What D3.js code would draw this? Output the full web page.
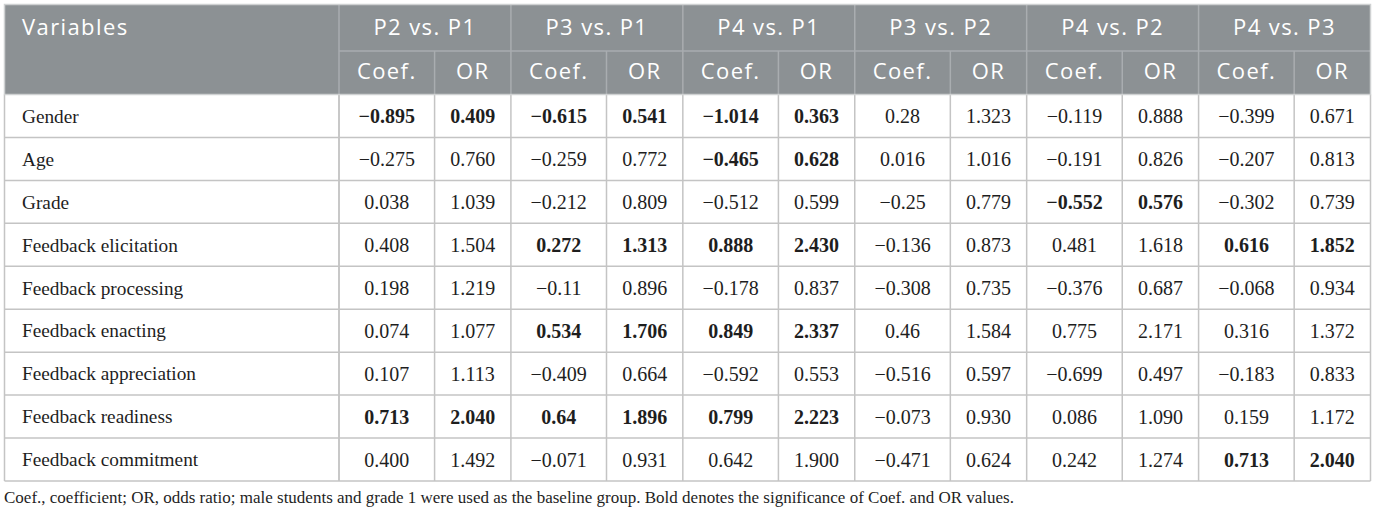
<!DOCTYPE html>
<html>
<head>
<meta charset="utf-8">
<script src="https://cdn.jsdelivr.net/npm/d3@7"></script>
<style>
  body { margin: 0; background: #fff; }
  .head { font-family: "Open Sans", sans-serif; fill: #fff; letter-spacing: 1.4px; }
  .cell { font-family: "Liberation Serif", serif; fill: #1e1e1e; }
</style>
</head>
<body>
<div id="table"></div>
<script>
const variables = [
    'Gender', 'Age', 'Grade', 'Feedback elicitation', 'Feedback processing',
    'Feedback enacting', 'Feedback appreciation', 'Feedback readiness', 'Feedback commitment'
]
const comparisons = ['P2 vs. P1', 'P3 vs. P1', 'P4 vs. P1', 'P3 vs. P2', 'P4 vs. P2', 'P4 vs. P3']
const measures = ['Coef.', 'OR']

// one row per variable, pairs of Coef./OR per comparison
const cellValues = [
    ['−0.895', '0.409', '−0.615', '0.541', '−1.014', '0.363', '0.28', '1.323', '−0.119', '0.888', '−0.399', '0.671'],
    ['−0.275', '0.760', '−0.259', '0.772', '−0.465', '0.628', '0.016', '1.016', '−0.191', '0.826', '−0.207', '0.813'],
    ['0.038', '1.039', '−0.212', '0.809', '−0.512', '0.599', '−0.25', '0.779', '−0.552', '0.576', '−0.302', '0.739'],
    ['0.408', '1.504', '0.272', '1.313', '0.888', '2.430', '−0.136', '0.873', '0.481', '1.618', '0.616', '1.852'],
    ['0.198', '1.219', '−0.11', '0.896', '−0.178', '0.837', '−0.308', '0.735', '−0.376', '0.687', '−0.068', '0.934'],
    ['0.074', '1.077', '0.534', '1.706', '0.849', '2.337', '0.46', '1.584', '0.775', '2.171', '0.316', '1.372'],
    ['0.107', '1.113', '−0.409', '0.664', '−0.592', '0.553', '−0.516', '0.597', '−0.699', '0.497', '−0.183', '0.833'],
    ['0.713', '2.040', '0.64', '1.896', '0.799', '2.223', '−0.073', '0.930', '0.086', '1.090', '0.159', '1.172'],
    ['0.400', '1.492', '−0.071', '0.931', '0.642', '1.900', '−0.471', '0.624', '0.242', '1.274', '0.713', '2.040'],
]
// significant (bold) cells
const boldCells = [
    [1, 1, 1, 1, 1, 1, 0, 0, 0, 0, 0, 0],
    [0, 0, 0, 0, 1, 1, 0, 0, 0, 0, 0, 0],
    [0, 0, 0, 0, 0, 0, 0, 0, 1, 1, 0, 0],
    [0, 0, 1, 1, 1, 1, 0, 0, 0, 0, 1, 1],
    [0, 0, 0, 0, 0, 0, 0, 0, 0, 0, 0, 0],
    [0, 0, 1, 1, 1, 1, 0, 0, 0, 0, 0, 0],
    [0, 0, 0, 0, 0, 0, 0, 0, 0, 0, 0, 0],
    [1, 1, 1, 1, 1, 1, 0, 0, 0, 0, 0, 0],
    [0, 0, 0, 0, 0, 0, 0, 0, 0, 0, 1, 1],
]
const footnote = 'Coef., coefficient; OR, odds ratio; male students and grade 1 were used as the baseline group. Bold denotes the significance of Coef. and OR values.'

const width = 1376, height = 514
const tLeft = 4.5, tRight = 1370.5, tTop = 4.5
const varColRight = 339
const headMid = 51, headBottom = 94.5, tableBottom = 481
const coefShare = 0.556

const headFill = '#8c9194', headLine = '#a9adb0', bodyLine = '#c4c4c4'

const svg = d3.select('#table').append('svg')
    .attr('width', width)
    .attr('height', height)

const x = d3.scaleBand().domain(comparisons).range([varColRight, tRight])
const y = d3.scaleBand().domain(variables).range([headBottom, tableBottom])
const gw = x.bandwidth()
const subX = (c, m) => m === 0 ? x(c) : x(c) + gw * coefShare
const subW = m => m === 0 ? gw * coefShare : gw * (1 - coefShare)

// header background
svg.append('rect')
    .attr('x', tLeft).attr('y', tTop)
    .attr('width', tRight - tLeft).attr('height', headBottom - tTop)
    .attr('fill', headFill)

// header grid
const hg = svg.append('g').attr('stroke', headLine).attr('stroke-width', 1.5)
hg.append('line').attr('x1', varColRight).attr('x2', tRight).attr('y1', headMid).attr('y2', headMid)
comparisons.forEach(c => {
    hg.append('line').attr('x1', x(c)).attr('x2', x(c)).attr('y1', tTop).attr('y2', headBottom)
    hg.append('line').attr('x1', subX(c, 1)).attr('x2', subX(c, 1)).attr('y1', headMid).attr('y2', headBottom)
})

// header text
svg.append('text').attr('class', 'head')
    .attr('x', 22).attr('y', (tTop + headMid) / 2)
    .attr('dy', '0.35em').attr('font-size', 22)
    .text('Variables')
svg.selectAll('.grp').data(comparisons).join('text')
    .attr('class', 'head grp')
    .attr('x', d => x(d) + gw / 2).attr('y', (tTop + headMid) / 2)
    .attr('dy', '0.35em').attr('text-anchor', 'middle').attr('font-size', 22)
    .text(d => d)
svg.selectAll('.sub').data(d3.cross(comparisons, [0, 1])).join('text')
    .attr('class', 'head sub')
    .attr('x', d => subX(d[0], d[1]) + subW(d[1]) / 2).attr('y', (headMid + headBottom) / 2 - 1)
    .attr('dy', '0.35em').attr('text-anchor', 'middle').attr('font-size', 22)
    .text(d => measures[d[1]])

// body grid
const bg = svg.append('g').attr('stroke', bodyLine).attr('stroke-width', 1.5).attr('fill', 'none')
variables.forEach(v => {
    bg.append('line').attr('x1', tLeft).attr('x2', tRight).attr('y1', y(v) + y.bandwidth()).attr('y2', y(v) + y.bandwidth())
})
const vlines = [tLeft, varColRight, tRight].concat(comparisons.flatMap(c => [x(c), subX(c, 1)]))
vlines.forEach(px => {
    bg.append('line').attr('x1', px).attr('x2', px).attr('y1', headBottom).attr('y2', tableBottom)
})
// outer header border
svg.append('rect')
    .attr('x', tLeft).attr('y', tTop)
    .attr('width', tRight - tLeft).attr('height', headBottom - tTop)
    .attr('fill', 'none').attr('stroke', '#cfd1d2').attr('stroke-width', 1.5)

// body text
svg.selectAll('.var').data(variables).join('text')
    .attr('class', 'cell var')
    .attr('x', 22).attr('y', d => y(d) + y.bandwidth() / 2)
    .attr('dy', '0.35em').attr('font-size', 19.3)
    .text(d => d)

const cells = variables.flatMap((v, r) => cellValues[r].map((val, k) => ({
    v, val, bold: boldCells[r][k], c: comparisons[Math.floor(k / 2)], m: k % 2
})))
svg.selectAll('.val').data(cells).join('text')
    .attr('class', 'cell val')
    .attr('x', d => subX(d.c, d.m) + subW(d.m) / 2)
    .attr('y', d => y(d.v) + y.bandwidth() / 2)
    .attr('dy', '0.35em').attr('text-anchor', 'middle').attr('font-size', 20)
    .attr('font-weight', d => d.bold ? 'bold' : 'normal')
    .text(d => d.val)

svg.append('text').attr('class', 'cell')
    .attr('x', 4).attr('y', 497).attr('dy', '0.35em').attr('font-size', 17)
    .text(footnote)
</script>
</body>
</html>
